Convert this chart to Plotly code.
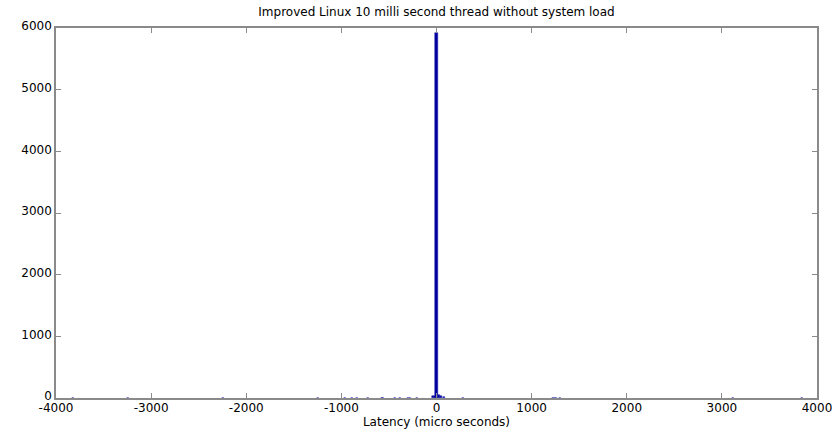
import plotly.graph_objects as go

# Histogram of latency (micro seconds): bin centers and counts
bin_centers = [-3820, -3242, -2243, -1245, -962, -888, -836, -720, -573, -562, -436,
               -384, -300, -279, -205, -37, -12, 0, 25, 50, 75, 279, 1230, 1260, 1300,
               3116, 3840]
counts = [2, 2, 2, 2, 3, 3, 3, 2, 2, 2, 2,
          2, 2, 2, 2, 25, 40, 5920, 45, 30, 15, 3, 3, 3, 3,
          3, 3]

title_text = "Improved Linux 10 milli second thread without system load"
x_label = "Latency (micro seconds)"
x_ticks = [-4000, -3000, -2000, -1000, 0, 1000, 2000, 3000, 4000]
x_tick_labels = ["-4000", "-3000", "-2000", "-1000", "0", "1000", "2000", "3000", "4000"]
y_ticks = [0, 1000, 2000, 3000, 4000, 5000, 6000]

FONT = "DejaVu Sans, Verdana, sans-serif"

fig = go.Figure(go.Bar(
    x=bin_centers, y=counts, width=22,
    marker=dict(color="#00009C", line=dict(color="#1A1AB0", width=0.5)),
))

axis_common = dict(
    showgrid=False, zeroline=False, showline=True, linecolor="#8a8a8a", linewidth=1.5,
    mirror="ticks", ticks="inside", ticklen=5, tickcolor="#8a8a8a", automargin=False,
    tickfont=dict(family=FONT, size=12, color="black"),
)

fig.update_layout(
    width=839, height=432,
    margin=dict(l=56, r=22, t=28, b=34),
    plot_bgcolor="white", paper_bgcolor="white",
    showlegend=False, bargap=0,
    title=dict(text=title_text, x=(56 + 817) / 2 / 839, xanchor="center", y=1 - 12/432, yanchor="middle",
               font=dict(family=FONT, size=12, color="black")),
    xaxis=dict(range=[-4000, 4000], tickvals=x_ticks, ticktext=x_tick_labels, **axis_common,
               ticklabelstandoff=-2,
               title=dict(text=x_label, standoff=0,
                          font=dict(family=FONT, size=12, color="black"))),
    yaxis=dict(range=[0, 6000], tickvals=y_ticks, ticklabelshift=-2, **axis_common),
)

fig.write_html("out.html", config={"displayModeBar": False},
               post_script="document.body.style.margin='0px';")
